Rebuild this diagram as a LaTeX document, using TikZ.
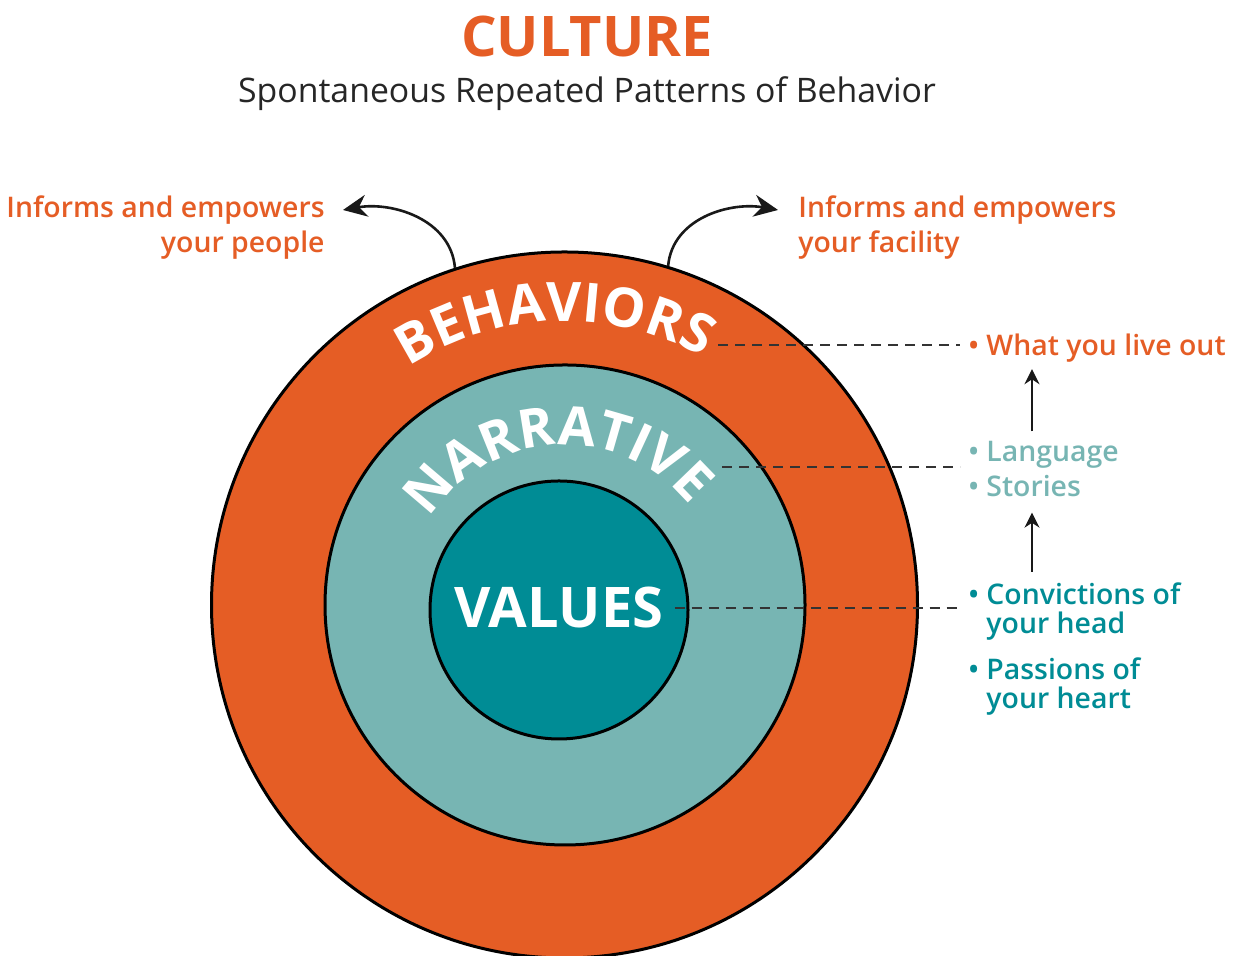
\documentclass[tikz,border=0pt]{standalone}
\usepackage{fontspec}
\setmainfont{Open Sans}
\newfontfamily\semibf{Open Sans Semibold}
\usepackage{xcolor}
\usepackage{tikz}
\usetikzlibrary{arrows.meta,decorations.text}
\definecolor{orng}{HTML}{E55D25}
\definecolor{ltteal}{HTML}{77B5B3}
\definecolor{dkteal}{HTML}{008C95}
\definecolor{inkgray}{HTML}{333333}

\begin{document}
\begin{tikzpicture}[x=0.5pt,y=0.5pt,
        ring/.style={circle, draw=black, line width=1.5pt, inner sep=0pt},
        guide/.style={draw=inkgray, line width=0.8pt, dash pattern=on 5pt off 3.5pt, shorten >=4pt},
        curvearr/.style={-{Stealth[length=12pt,width=11pt]}, line width=1.3pt, black!90},
        uparr/.style={-{Stealth[length=7.5pt,width=7.5pt]}, line width=1pt, black!90},
        side/.style={font=\semibf\fontsize{14.2}{17.5}\selectfont, inner sep=0pt},
        bigword/.style={font=\fontsize{28}{30}\selectfont\bfseries, text=white}]
    \useasboundingbox (0,0) rectangle (1237,956);

    \node[font=\fontsize{28}{30}\selectfont\bfseries, text=orng, anchor=base] (title) at (587,899) {CULTURE};
    \node[font=\fontsize{16.9}{18}\selectfont, text=black!85, anchor=base] (sub) at (587,853) {Spontaneous Repeated Patterns of Behavior};

    \node[ring, fill=orng, minimum size=353pt] (behav) at (564.5,351) {};
    \node[ring, fill=ltteal, minimum size=240pt] (narr) at (565,351) {};
    \node[ring, fill=dkteal, minimum size=129pt] (vals) at (559,346) {};
    \node[bigword, inner sep=5.5pt] (valtxt) at (559,348) {VALUES};

    \path[decorate, decoration={text along path, text align=center, text color=white,
        text={|\fontsize{27.2}{30}\selectfont\bfseries|BEHAVIORS}}]
        ([shift={(182:142pt)}]behav.center) arc[start angle=182, end angle=2, radius=142pt];
    \path[decorate, decoration={text along path, text align=center, text color=white,
        text={|\fontsize{27}{30}\selectfont\bfseries|NARRATIVE}}]
        ([shift={(183:80pt)}]narr.center) arc[start angle=183, end angle=3, radius=80pt];

    \node[side, text=orng, align=right, anchor=north east] (people) at (325,761) {Informs and empowers\\your people};
    \node[side, text=orng, align=left, anchor=north west] (facil) at (798,761) {Informs and empowers\\your facility};
    \coordinate (ptip) at (343,746);
    \coordinate (ftip) at (778,746);
    \draw[curvearr] (behav.108.5) to[out=95, in=10] (ptip);
    \draw[curvearr] (behav.73) to[out=85, in=170] (ftip);

    \node[side, text=orng, anchor=base west] (live) at (968,600) {\textbullet\ What you live out};
    \node[side, text=ltteal, anchor=base west] (lang) at (968,494) {\textbullet\ Language};
    \node[side, text=ltteal, anchor=base west] (story) at (968,459) {\textbullet\ Stories};
    \node[side, text=dkteal, align=left, anchor=north west, font=\semibf\fontsize{14.2}{14.5}\selectfont] (conv) at (968,374)
        {\textbullet\ Convictions of\\\phantom{\textbullet\ }your head};
    \node[side, text=dkteal, align=left, anchor=north west, font=\semibf\fontsize{14.2}{14.5}\selectfont] (pass) at (968,299)
        {\textbullet\ Passions of\\\phantom{\textbullet\ }your heart};

    \coordinate (behav-end) at (718,611);
    \coordinate (narr-end) at (722,489);
    \coordinate (upx) at (1032,0);
    \draw[guide] (behav-end) -- (behav-end -| live.west);
    \draw[guide] (narr-end) -- (narr-end -| lang.west);
    \draw[guide] (valtxt.east) -- (valtxt.east -| conv.west);
    \draw[uparr, shorten <=5pt, shorten >=3pt] (lang.north -| upx) -- (live.south -| upx);
    \draw[uparr, shorten <=5pt, shorten >=7.5pt] (conv.north -| upx) -- (story.south -| upx);
\end{tikzpicture}
\end{document}
